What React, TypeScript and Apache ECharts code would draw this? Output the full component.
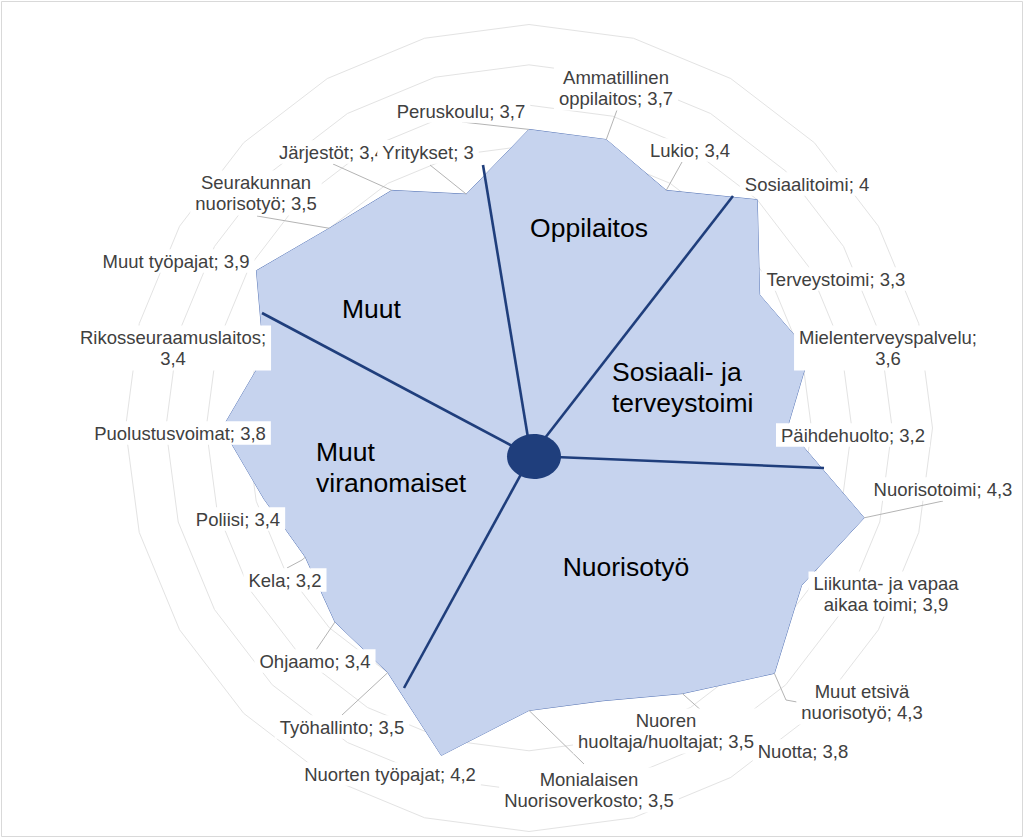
import React, { useEffect, useRef } from "react";
import * as echarts from "echarts";

// ---- data (clockwise from top) ----
const categories: string[] = [
  "Peruskoulu",
  "Ammatillinen oppilaitos",
  "Lukio",
  "Sosiaalitoimi",
  "Terveystoimi",
  "Mielenterveyspalvelu",
  "Päihdehuolto",
  "Nuorisotoimi",
  "Liikunta- ja vapaa aikaa toimi",
  "Muut etsivä nuorisotyö",
  "Nuotta",
  "Nuoren huoltaja/huoltajat",
  "Monialaisen Nuorisoverkosto",
  "Nuorten työpajat",
  "Työhallinto",
  "Ohjaamo",
  "Kela",
  "Poliisi",
  "Puolustusvoimat",
  "Rikosseuraamuslaitos",
  "Muut työpajat",
  "Seurakunnan nuorisotyö",
  "Järjestöt",
  "Yritykset",
];
const values: number[] = [
  3.7, 3.7, 3.4, 4.0, 3.3, 3.6, 3.2, 4.3, 3.9, 4.3, 3.8, 3.5, 3.5, 4.2, 3.5,
  3.4, 3.2, 3.4, 3.8, 3.4, 3.9, 3.5, 3.4, 3.0,
];
const axisMin = 0;
const axisMax = 5;
const ringCount = 10;
const sectionNames: string[] = [
  "Oppilaitos",
  "Sosiaali- ja\nterveystoimi",
  "Nuorisotyö",
  "Muut\nviranomaiset",
  "Muut",
];

// ---- layout ----
const CX = 529;
const CY = 428;
const R = 403.5;
const FONT = "'Liberation Sans', Arial, sans-serif";

type LabelPos = { x: number; y: number; br?: number; lead?: number[][] };
const labelPos: LabelPos[] = [
  { x: 461, y: 111, lead: [[462, 122]] },
  { x: 616, y: 88, br: 1, lead: [[617, 110]] },
  { x: 690, y: 150, lead: [[682, 162]] },
  { x: 807, y: 184 },
  { x: 836, y: 279 },
  { x: 888, y: 348, br: 1 },
  { x: 853, y: 435 },
  { x: 943, y: 489, lead: [[943, 501]] },
  { x: 886, y: 594, br: 3 },
  { x: 862, y: 702, br: 2, lead: [[797, 702], [786, 700]] },
  { x: 803, y: 751, lead: [[740, 745]] },
  { x: 666, y: 731, br: 1 },
  { x: 589, y: 790, br: 1, lead: [[584, 764]] },
  { x: 390, y: 774 },
  { x: 342, y: 727, lead: [[342, 715]] },
  { x: 315, y: 661, lead: [[316, 650]] },
  { x: 285, y: 580, lead: [[287, 568], [302, 560]] },
  { x: 238, y: 519 },
  { x: 180, y: 433 },
  { x: 173, y: 348, br: 1 },
  { x: 176, y: 261 },
  { x: 256, y: 193, br: 1, lead: [[257, 216]] },
  { x: 332, y: 152, lead: [[333, 164]] },
  { x: 428, y: 152, lead: [[430, 165]] },
];

const HUB = [531, 456];
const sectionLineEnds = [
  [483, 165],
  [733, 196],
  [824, 468],
  [404, 688],
  [262, 313],
];
const sectionTextPos = [
  { x: 589, y: 228, align: "center" },
  { x: 612, y: 387, align: "left" },
  { x: 626, y: 567, align: "center" },
  { x: 316, y: 467, align: "left" },
  { x: 342, y: 309, align: "left" },
];

function fmt(v: number): string {
  return String(v).replace(".", ",");
}

function labelText(i: number): string {
  const words = `${categories[i]}; ${fmt(values[i])}`.split(" ");
  const br = labelPos[i].br;
  if (!br) return words.join(" ");
  return words.slice(0, br).join(" ") + "\n" + words.slice(br).join(" ");
}

function vertex(i: number): number[] {
  const a = (i * 2 * Math.PI) / categories.length;
  const r = ((values[i] - axisMin) / (axisMax - axisMin)) * R;
  return [CX + r * Math.sin(a), CY - r * Math.cos(a)];
}

export default function App() {
  const ref = useRef<HTMLDivElement>(null);

  useEffect(() => {
    if (!ref.current) return;
    const chart = echarts.init(ref.current, undefined, { renderer: "svg" });

    // ECharts radar runs counter-clockwise; reverse to get clockwise order
    const order = [0];
    for (let i = categories.length - 1; i >= 1; i--) order.push(i);

    const graphics: any[] = [];

    // outer border
    graphics.push({
      type: "rect",
      z: 1,
      shape: { x: 1.5, y: 1.5, width: 1021, height: 835 },
      style: { fill: "none", stroke: "#d9d9d9", lineWidth: 1 },
    });

    // leader lines
    labelPos.forEach((p, i) => {
      if (!p.lead) return;
      const pts = [...p.lead, vertex(i)];
      graphics.push({
        type: "polyline",
        z: 100,
        shape: { points: pts },
        style: { stroke: "#b4b4b4", lineWidth: 1, fill: "none" },
      });
    });

    // data labels
    labelPos.forEach((p, i) => {
      graphics.push({
        type: "text",
        z: 110 + i,
        x: p.x,
        y: p.y,
        style: {
          text: labelText(i),
          fontSize: 18.5,
          fontFamily: FONT,
          fill: "#404040",
          align: "center",
          verticalAlign: "middle",
          lineHeight: 21.5,
          backgroundColor: "#ffffff",
          padding: [1, 5],
        },
      });
    });

    // section lines
    sectionLineEnds.forEach((e) => {
      graphics.push({
        type: "line",
        z: 150,
        shape: { x1: HUB[0], y1: HUB[1], x2: e[0], y2: e[1] },
        style: { stroke: "#1f3e7c", lineWidth: 2.6 },
      });
    });
    graphics.push({
      type: "ellipse",
      z: 151,
      shape: { cx: 534, cy: 456.5, rx: 27, ry: 22.5 },
      style: { fill: "#1f3e7c" },
    });

    // section titles
    sectionNames.forEach((name, k) => {
      const p = sectionTextPos[k];
      graphics.push({
        type: "text",
        z: 160,
        x: p.x,
        y: p.y,
        style: {
          text: name,
          fontSize: 26.5,
          fontFamily: FONT,
          fill: "#000000",
          align: p.align,
          verticalAlign: "middle",
          lineHeight: 31,
        },
      });
    });

    chart.setOption({
      animation: false,
      backgroundColor: "#ffffff",
      radar: {
        center: [CX, CY],
        radius: R,
        startAngle: 90,
        splitNumber: ringCount,
        shape: "polygon",
        indicator: order.map((i) => ({
          name: categories[i],
          min: axisMin,
          max: axisMax,
        })),
        axisName: { show: false },
        axisLine: { show: false },
        axisTick: { show: false },
        axisLabel: { show: false },
        splitLine: { lineStyle: { color: "#e3e3e3", width: 1 } },
        splitArea: { show: false },
      },
      series: [
        {
          type: "radar",
          z: 2,
          symbol: "none",
          data: [{ value: order.map((i) => values[i]) }],
          lineStyle: { color: "#5a78b8", width: 1 },
          areaStyle: { color: "#c6d3ee", opacity: 1 },
        },
      ],
      graphic: { elements: graphics },
    });

    return () => chart.dispose();
  }, []);

  return (
    <div
      ref={ref}
      style={{ position: "fixed", left: 0, top: 0, width: 1024, height: 839 }}
    />
  );
}
